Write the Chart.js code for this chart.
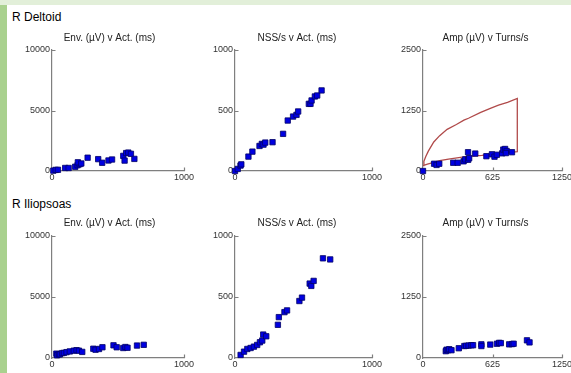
<!DOCTYPE html>
<html><head><meta charset="utf-8">
<script src="https://cdn.jsdelivr.net/npm/chart.js@4.4.0/dist/chart.umd.min.js"></script>
<style>
html,body{margin:0;padding:0;background:#fff;width:571px;height:373px;overflow:hidden;position:relative;font-family:"Liberation Sans",Arial,sans-serif;}
#topband{position:absolute;left:0;top:0;width:571px;height:5px;background:#e2efd9;}
#leftband{position:absolute;left:0;top:5px;width:7px;height:368px;background:#a9d18e;}
.sec{position:absolute;left:12px;font-size:12px;color:#000;line-height:14px;white-space:nowrap;}
canvas{position:absolute;}
</style></head><body>
<div id="topband"></div><div id="leftband"></div>
<div class="sec" style="top:10px">R Deltoid</div>
<div class="sec" style="top:197px">R Iliopsoas</div>
<canvas id="c1"></canvas><canvas id="c2"></canvas><canvas id="c3"></canvas>
<canvas id="c4"></canvas><canvas id="c5"></canvas><canvas id="c6"></canvas>
<script>
// ---- tick labels ----
const envTicks = [0, 5000, 10000];
const nssTicks = [0, 500, 1000];
const ampTicks = [0, 1250, 2500];
const actTicks = [0, 1000];
const turnsTicks = [0, 625, 1250];

// ---- panel titles ----
const sectionNames = ["R Deltoid", "R Iliopsoas"];
const panelTitles = ["Env. (\u00b5V) v Act. (ms)", "NSS/s v Act. (ms)", "Amp (\u00b5V) v Turns/s"];

// ---- R Deltoid ----
const deltoidActA = [10,28,45,100,126,176,194,209,196,222,270,350,380,428,455,540,550,562,578,598,624];
const deltoidEnv  = [30,90,100,250,250,350,480,560,720,620,1100,980,680,870,950,1250,860,1480,1520,1420,1000];

const deltoidActB = [0,20,40,46,98,127,179,196,208,221,274,351,385,424,449,461,539,551,559,583,600,632];
const deltoidNss  = [0,17,45,55,119,160,207,224,218,235,238,307,417,450,464,492,555,555,583,616,624,666];

const deltoidTurns = [0,100,122,146,272,312,365,380,406,415,405,470,570,620,643,664,712,722,738,752,745,800];
const deltoidAmp   = [0,150,125,150,170,170,200,240,232,265,388,360,306,345,296,335,365,442,455,412,370,388];

// reference cloud outline (upper edge, right edge, lower edge)
const cloudTurns = [0,8,25,48,97,150,217,300,368,409,519,600,679,760,848,848,760,679,529,368,229,150,97,40,0];
const cloudAmp   = [110,200,300,410,600,730,860,960,1050,1090,1210,1290,1360,1420,1500,400,380,360,322,290,245,215,180,140,110];

// ---- R Iliopsoas ----
const iliopsoasActA = [33,38,52,60,76,90,110,135,165,186,204,229,313,330,356,382,466,490,540,556,572,644,695];
const iliopsoasEnv  = [357,220,300,300,400,420,480,540,600,640,600,500,760,680,740,880,1040,880,820,900,840,1020,1080];

const iliopsoasActB = [41,66,90,114,138,162,182,199,206,228,313,320,361,380,470,489,545,557,574,642,695];
const iliopsoasNss  = [25,52,74,82,93,107,129,143,192,178,272,335,376,390,467,495,610,591,632,817,808];

const iliopsoasTurns = [205,212,225,236,256,322,372,388,410,435,450,525,525,605,665,685,700,775,800,815,935,958];
const iliopsoasAmp   = [140,170,160,180,160,200,245,250,255,262,262,280,245,275,292,310,305,280,285,292,362,320];

const zip = (xs, ys) => xs.map((x, i) => ({x: x, y: ys[i]}));

const AXIS = '#7f7f7f';
const inwardTicks = {
  id: 'inwardTicks',
  beforeDatasetsDraw(chart) {
    const {ctx, chartArea, scales} = chart;
    ctx.save();
    ctx.strokeStyle = AXIS; ctx.lineWidth = 1.2;
    ctx.beginPath();
    scales.y.ticks.forEach(t => {
      if (t.value === scales.y.min) return;
      const py = Math.round(scales.y.getPixelForValue(t.value)) + 0.5;
      ctx.moveTo(chartArea.left, py); ctx.lineTo(chartArea.left + 3.5, py);
    });
    scales.x.ticks.forEach(t => {
      if (t.value === scales.x.min) return;
      const px = Math.round(scales.x.getPixelForValue(t.value)) + 0.5;
      ctx.moveTo(px, chartArea.bottom); ctx.lineTo(px, chartArea.bottom - 3.5);
    });
    ctx.stroke();
    ctx.restore();
  }
};
const subtitleText = {
  id: 'subtitleText',
  afterDraw(chart, args, opts) {
    const ctx = chart.ctx;
    ctx.save();
    ctx.font = '10px "Liberation Sans", Arial, sans-serif';
    ctx.fillStyle = '#222';
    ctx.textAlign = 'center';
    ctx.textBaseline = 'middle';
    ctx.fillText(opts.text, opts.x, opts.y);
    ctx.restore();
  }
};

const PADL = 45, PADT = 24, PADR = 15, PADB = 16, YW = 30, XH = 14;

function makePanel(id, rect, title, titleCx, titleCy, xTicks, yTicks, datasets) {
  const cv = document.getElementById(id);
  const left = rect.L - PADL, top = rect.T - PADT;
  cv.style.left = left + 'px'; cv.style.top = top + 'px';
  cv.width = rect.R - rect.L + PADL + PADR;
  cv.height = rect.B - rect.T + PADT + PADB;
  const tickFont = {family: '"Liberation Sans", Arial, sans-serif', size: 9};
  new Chart(cv, {
    type: 'scatter',
    data: {datasets: datasets},
    options: {
      responsive: false, animation: false, devicePixelRatio: 1,
      layout: {padding: {left: PADL - YW, top: PADT, right: PADR, bottom: PADB - XH}},
      plugins: {legend: {display: false}, tooltip: {enabled: false},
        subtitleText: {text: title, x: titleCx - left, y: titleCy - top}},
      scales: {
        x: {type: 'linear', min: xTicks[0], max: xTicks[xTicks.length - 1],
          afterBuildTicks: s => { s.ticks = xTicks.map(v => ({value: v})); },
          afterFit: s => { s.height = XH; },
          grid: {display: false, drawTicks: false},
          border: {display: true, color: AXIS, width: 1.2},
          ticks: {padding: 1, font: tickFont, color: '#333', maxRotation: 0, autoSkip: false, callback: v => String(v)}},
        y: {type: 'linear', min: yTicks[0], max: yTicks[yTicks.length - 1],
          afterBuildTicks: s => { s.ticks = yTicks.map(v => ({value: v})); },
          afterFit: s => { s.width = YW; },
          grid: {display: false, drawTicks: false},
          border: {display: true, color: AXIS, width: 1.2},
          ticks: {padding: 2, font: tickFont, color: '#333', autoSkip: false, callback: v => String(v)}}
      }
    },
    plugins: [inwardTicks, subtitleText]
  });
}

function pts(data) {
  return {data: data, pointStyle: 'rect', pointRadius: 3.8, pointHoverRadius: 3.8,
    backgroundColor: '#0000e0', borderColor: '#000066', borderWidth: 0.8, clip: false};
}
function cloud(data) {
  return {data: data, showLine: true, pointRadius: 0, borderColor: '#b04a4a', borderWidth: 1.3,
    fill: false, tension: 0, clip: false};
}

const row1 = {T: 50, B: 171}, row2 = {T: 236, B: 358};
const cols = [{L: 52, R: 184, cx: 109.5}, {L: 235, R: 372, cx: 297}, {L: 423, R: 562, cx: 485.5}];

makePanel('c1', {L: cols[0].L, R: cols[0].R, T: row1.T, B: row1.B}, panelTitles[0], cols[0].cx, 38, actTicks, envTicks,
  [pts(zip(deltoidActA, deltoidEnv))]);
makePanel('c2', {L: cols[1].L, R: cols[1].R, T: row1.T, B: row1.B}, panelTitles[1], cols[1].cx, 38, actTicks, nssTicks,
  [pts(zip(deltoidActB, deltoidNss))]);
makePanel('c3', {L: cols[2].L, R: cols[2].R, T: row1.T, B: row1.B}, panelTitles[2], cols[2].cx, 38, turnsTicks, ampTicks,
  [pts(zip(deltoidTurns, deltoidAmp)), cloud(zip(cloudTurns, cloudAmp))]);
makePanel('c4', {L: cols[0].L, R: cols[0].R, T: row2.T, B: row2.B}, panelTitles[0], cols[0].cx, 223, actTicks, envTicks,
  [pts(zip(iliopsoasActA, iliopsoasEnv))]);
makePanel('c5', {L: cols[1].L, R: cols[1].R, T: row2.T, B: row2.B}, panelTitles[1], cols[1].cx, 223, actTicks, nssTicks,
  [pts(zip(iliopsoasActB, iliopsoasNss))]);
makePanel('c6', {L: cols[2].L, R: cols[2].R, T: row2.T, B: row2.B}, panelTitles[2], cols[2].cx, 223, turnsTicks, ampTicks,
  [pts(zip(iliopsoasTurns, iliopsoasAmp))]);
</script>
</body></html>
